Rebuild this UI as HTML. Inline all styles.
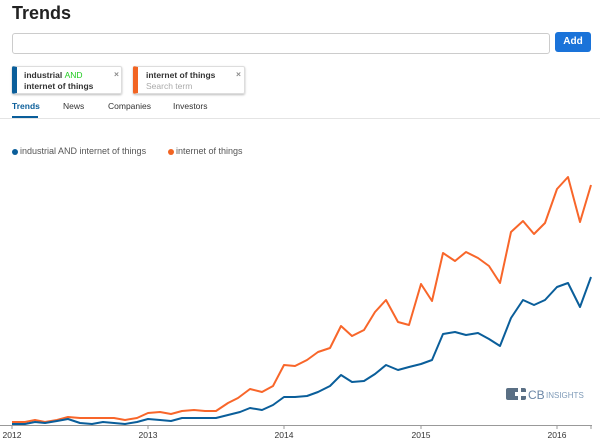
<!DOCTYPE html>
<html><head><meta charset="utf-8"><style>
body{margin:0;width:600px;height:444px;background:#fff;font-family:"Liberation Sans",sans-serif;position:relative;overflow:hidden}
.a{position:absolute}
</style></head><body>
<div class="a" style="left:12px;top:3px;font-size:18px;font-weight:bold;color:#222">Trends</div>
<div class="a" style="left:12px;top:33px;width:536px;height:19px;border:1px solid #ccc;border-radius:3px"></div>
<div class="a" style="left:555px;top:32px;width:36px;height:20px;background:#1a73d9;border-radius:3px;color:#fff;font-size:10px;font-weight:bold;text-align:center;line-height:20px">Add</div>
<div class="a" style="left:12px;top:66px;width:110px;height:28px;border:1px solid #ddd;border-radius:2px;box-shadow:0 1px 2px #bbb;border-left:5px solid #0a5e9a;font-size:8.5px;font-weight:bold;color:#333;line-height:11px;padding:3px 0 0 7px;box-sizing:border-box">industrial <span style="color:#2c2;font-weight:normal">AND</span><br>internet of things<span class="a" style="left:97px;top:2px;color:#888">×</span></div>
<div class="a" style="left:133px;top:66px;width:112px;height:28px;border:1px solid #ddd;border-radius:2px;box-shadow:0 1px 2px #bbb;border-left:5px solid #f26422;font-size:8.5px;font-weight:bold;color:#333;line-height:11px;padding:3px 0 0 8px;box-sizing:border-box">internet of things<br><span style="color:#aaa;font-weight:normal">Search term</span><span class="a" style="left:98px;top:2px;color:#888">×</span></div>
<div class="a" style="left:12px;top:101px;font-size:8.5px;font-weight:bold;color:#0a5e9a">Trends</div>
<div class="a" style="left:12px;top:116px;width:26px;height:2px;background:#0a5e9a"></div>
<div class="a" style="left:63px;top:101px;font-size:8.5px;color:#333">News</div>
<div class="a" style="left:108px;top:101px;font-size:8.5px;color:#333">Companies</div>
<div class="a" style="left:173px;top:101px;font-size:8.5px;color:#333">Investors</div>
<div class="a" style="left:0;top:118px;width:600px;height:1px;background:#e4e4e4"></div>
<div class="a" style="left:12px;top:149px;width:6px;height:6px;border-radius:3px;background:#0a5e9a"></div>
<div class="a" style="left:20px;top:146px;font-size:9px;color:#555">industrial AND internet of things</div>
<div class="a" style="left:168px;top:149px;width:6px;height:6px;border-radius:3px;background:#f26422"></div>
<div class="a" style="left:176px;top:146px;font-size:9px;color:#555">internet of things</div>
<svg class="a" style="left:0;top:0" width="600" height="444">
<line x1="0" y1="425.5" x2="592" y2="425.5" stroke="#999"/>
<g stroke="#999"><line x1="12" y1="425" x2="12" y2="429"/><line x1="148" y1="425" x2="148" y2="429"/><line x1="284" y1="425" x2="284" y2="429"/><line x1="421" y1="425" x2="421" y2="429"/><line x1="557" y1="425" x2="557" y2="429"/><line x1="591" y1="425" x2="591" y2="429"/></g>
<g font-size="8.5" fill="#333" text-anchor="middle"><text x="12" y="438">2012</text><text x="148" y="438">2013</text><text x="284" y="438">2014</text><text x="421" y="438">2015</text><text x="557" y="438">2016</text></g>
<polyline fill="none" stroke="#f8662a" stroke-width="2" stroke-linejoin="round" points="12,422 25,422 35,420 45,422 57,420 68,417 80,418 92,418 103,418 114,418 125,420 137,418 148,413 160,412 171,414 182,411 194,410 205,411 216,411 228,403 238,398 250,389 262,392 273,386 284,365 295,366 307,360 318,352 330,348 341,326 352,336 364,330 375,312 386,300 398,322 409,325 421,284 432,301 443,253 455,261 466,252 478,258 489,266 500,283 511,232 523,221 534,234 545,223 557,189 568,177 580,222 591,185"/>
<polyline fill="none" stroke="#0a5e9a" stroke-width="2" stroke-linejoin="round" points="12,424 25,424 35,422 45,423 57,421 68,419 80,423 92,424 103,422 114,423 125,424 137,422 148,419 160,420 171,421 182,418 194,418 205,418 216,418 228,415 240,412 250,408 262,410 273,405 284,397 295,397 307,396 318,392 330,386 341,375 352,382 364,381 375,374 386,365 398,370 409,367 421,364 432,360 443,334 455,332 466,335 478,333 489,339 500,346 511,318 523,300 534,305 545,300 557,287 568,283 580,307 591,277"/>
<rect x="506" y="388" width="20" height="12" rx="2" fill="#5a6f84"/>
<rect x="515" y="392" width="11" height="4" fill="#fff"/><rect x="518" y="388" width="3" height="12" fill="#fff"/>
<text x="528" y="399" font-size="12" fill="#6a86a6">CB</text>
<text x="546" y="398" font-size="8" fill="#7f9bb8">INSIGHTS</text>
</svg>
</body></html>
